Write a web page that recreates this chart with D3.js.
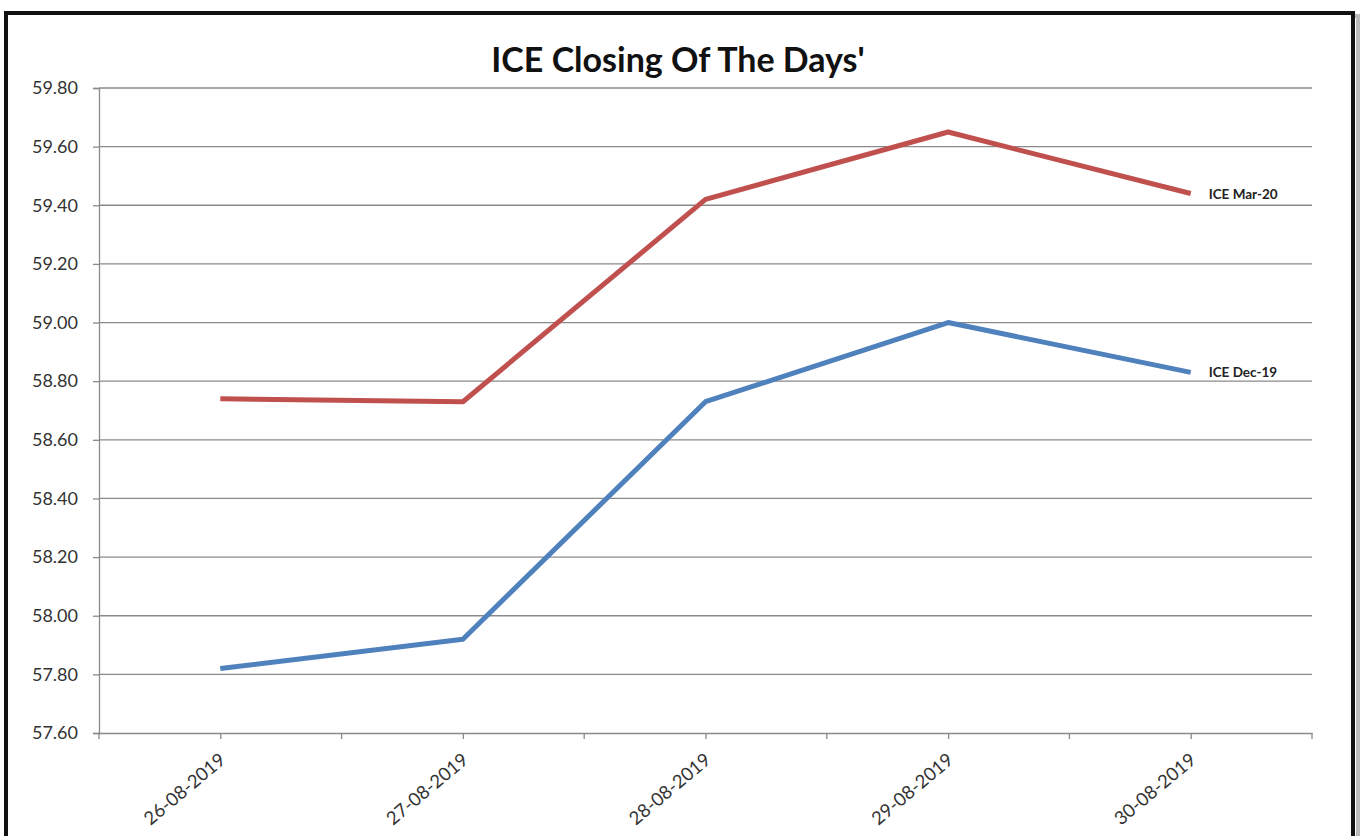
<!DOCTYPE html>
<html>
<head>
<meta charset="utf-8">
<script src="https://cdn.jsdelivr.net/npm/d3@7"></script>
<style>
  body { margin: 0; background: #fff; }
  text { font-family: Lato, "Open Sans", sans-serif; }
</style>
</head>
<body>
<script>
const dates = ['26-08-2019', '27-08-2019', '28-08-2019', '29-08-2019', '30-08-2019'];
const mar20 = [58.74, 58.73, 59.42, 59.65, 59.44];
const dec19 = [57.82, 57.92, 58.73, 59.00, 58.83];
const yTicks = [57.6, 57.8, 58.0, 58.2, 58.4, 58.6, 58.8, 59.0, 59.2, 59.4, 59.6, 59.8];

const svg = d3.select('body').append('svg')
  .attr('width', 1362)
  .attr('height', 836);

// schaduw + kader
svg.append('rect')
  .attr('x', 9).attr('y', 16).attr('width', 1349).attr('height', 840)
  .attr('fill', 'none').attr('stroke', '#bbb').attr('stroke-width', 4);
svg.append('rect')
  .attr('x', 6).attr('y', 13).attr('width', 1347).attr('height', 840)
  .attr('fill', '#fff').attr('stroke', '#111').attr('stroke-width', 4);

const mLeft = 99, mRight = 1312, mTop = 88, mBottom = 733;

const x = d3.scalePoint().domain(dates).range([mLeft, mRight]).padding(0.5);
const y = d3.scaleLinear().domain([57.6, 59.8]).range([mBottom, mTop]);

// titel
svg.append('text')
  .attr('x', 678).attr('y', 72)
  .attr('text-anchor', 'middle')
  .style('font-size', '34px').style('font-weight', 'bold').style('fill', '#111')
  .text("ICE Closing Of The Days'");

// rasterlijnen
svg.append('g').selectAll('line')
  .data(yTicks.slice(1)).enter()
  .append('line')
  .attr('x1', mLeft).attr('x2', mRight)
  .attr('y1', d => y(d)).attr('y2', d => y(d))
  .attr('stroke', '#8a8a8a').attr('stroke-width', 1.3);

// y-as
const yAxis = svg.append('g')
  .attr('transform', `translate(${mLeft},0)`)
  .call(d3.axisLeft(y).tickValues(yTicks).tickFormat(d3.format('.2f')).tickSize(6).tickPadding(15));
yAxis.select('.domain').attr('stroke', '#8a8a8a').attr('stroke-width', 1.3);
yAxis.selectAll('line').attr('stroke', '#8a8a8a').attr('stroke-width', 1.3);
yAxis.selectAll('text').style('font-size', '18px').style('fill', '#333')
  .style('font-family', 'Lato, "Open Sans", sans-serif');

// x-as
const xAxis = svg.append('g')
  .attr('transform', `translate(0,${mBottom})`)
  .call(d3.axisBottom(x).tickSize(6).tickSizeOuter(0).tickPadding(8));
xAxis.select('.domain').attr('stroke', '#8a8a8a').attr('stroke-width', 1.5);
xAxis.selectAll('line').attr('stroke', '#8a8a8a').attr('stroke-width', 1.3);
xAxis.selectAll('text')
  .style('font-size', '18.5px').style('fill', '#333')
  .style('font-family', 'Lato, "Open Sans", sans-serif')
  .attr('text-anchor', 'end')
  .attr('dx', '-14px').attr('dy', '12px')
  .attr('transform', 'rotate(-40)');

// tussenstreepjes
const step = x.step();
const halfTicks = [mLeft].concat(dates.map(d => x(d) + step / 2));
svg.append('g').selectAll('line')
  .data(halfTicks).enter()
  .append('line')
  .attr('x1', d => d).attr('x2', d => d)
  .attr('y1', mBottom).attr('y2', mBottom + 6)
  .attr('stroke', '#8a8a8a').attr('stroke-width', 1.3);

// lijnen
const line = d3.line()
  .x((d, i) => x(dates[i]))
  .y(d => y(d));

const series = [
  { name: 'ICE Mar-20', values: mar20, color: '#c0504d' },
  { name: 'ICE Dec-19', values: dec19, color: '#4f81bd' }
];

series.forEach(s => {
  svg.append('path')
    .datum(s.values)
    .attr('d', line)
    .attr('fill', 'none')
    .attr('stroke', s.color)
    .attr('stroke-width', 5)
    .attr('stroke-linejoin', 'round');

  const last = s.values[s.values.length - 1];
  svg.append('text')
    .attr('x', x(dates[dates.length - 1]) + 18)
    .attr('y', y(last) + 5)
    .style('font-size', '13.5px').style('font-weight', 'bold').style('fill', '#222')
    .text(s.name);
});
</script>
</body>
</html>
